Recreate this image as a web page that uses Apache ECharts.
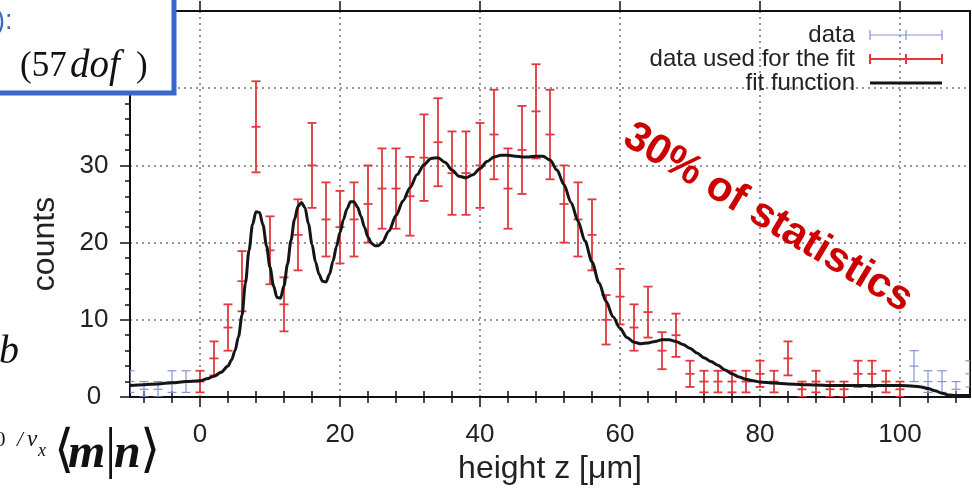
<!DOCTYPE html>
<html>
<head>
<meta charset="utf-8">
<script src="https://cdn.jsdelivr.net/npm/echarts@6/dist/echarts.min.js"></script>
<style>
  html, body { margin: 0; padding: 0; background: #fff; }
  #chart { width: 972px; height: 491px; }
</style>
</head>
<body>
<div id="chart"></div>
<script>
// Height histogram: counts per 2 µm bin, Poisson error bars, fit curve.
const fitBinsZ = [0, 2, 4, 6, 8, 10, 12, 14, 16, 18, 20, 22, 24, 26, 28, 30, 32, 34, 36, 38, 40,
  42, 44, 46, 48, 50, 52, 54, 56, 58, 60, 62, 64, 66, 68, 70, 72, 74, 76, 78, 80,
  82, 84, 86, 88, 90, 92, 94, 96, 98, 100];
const fitBinsCounts = [2, 5, 9, 15, 35, 19, 12, 21, 30, 23, 22, 23, 25, 27, 27, 26, 31, 33, 29, 29, 30,
  34, 27, 32, 37, 34, 25, 23, 21, 10, 13, 9, 11, 6, 8, 3, 2, 2, 2, 2, 3,
  2, 5, 1, 2, 1, 1, 3, 3, 2, 1];
const fitBinsErrors = [1.4, 2.2, 3, 3.9, 5.9, 4.4, 3.5, 4.6, 5.5, 4.8, 4.7, 4.8, 5, 5.2, 5.2, 5.1, 5.6, 5.7, 5.4, 5.4, 5.5,
  5.8, 5.2, 5.7, 6.1, 5.8, 5, 4.8, 4.6, 3.2, 3.6, 3, 3.3, 2.4, 2.8, 1.7, 1.4, 1.4, 1.4, 1.4, 1.7,
  1.4, 2.2, 1, 1.4, 1, 1, 1.7, 1.7, 1.4, 1];

const otherBinsZ = [-10, -8, -6, -4, -2, 102, 104, 106, 108, 110];
const otherBinsCounts = [2, 1, 1, 2, 2, 4, 2, 2, 1, 3];
const otherBinsErrors = [1.4, 1, 1, 1.4, 1.4, 2, 1.4, 1.4, 1, 1.7];

const curveZ = [-10, -8, -6, -4, -2, 0, 1, 2, 3, 4, 4.5, 5, 5.5, 6, 6.5, 7, 7.5, 8, 8.5, 9, 9.5,
  10, 10.5, 11, 11.5, 12, 12.5, 13, 13.5, 14, 14.5, 15, 15.5, 16, 16.5, 17, 17.5, 18, 18.5, 19, 19.5,
  20, 20.5, 21, 21.5, 22, 22.5, 23, 23.5, 24, 24.5, 25, 25.5, 26, 27, 28, 29, 30, 31, 32, 33, 34, 35,
  36, 37, 38, 39, 40, 41, 42, 43, 44, 45, 46, 47, 48, 49, 50, 51, 52, 53, 54, 55, 56, 57, 58, 59, 60,
  61, 62, 63, 64, 65, 66, 67, 68, 69, 70, 71, 72, 73, 74, 75, 76, 77, 78, 79, 80, 82, 84, 86, 88, 90,
  95, 100, 102, 103, 104, 105, 106, 107, 108, 110];
const curveCounts = [1.5, 1.6, 1.7, 1.85, 2.0, 2.1, 2.35, 2.7, 3.2, 4.0, 4.8, 6.0, 7.8, 10.6, 14.8, 19.0, 22.3, 24.0, 23.9, 22.3, 19.6,
  16.8, 14.4, 12.9, 12.8, 14.4, 17.2, 20.3, 23.0, 24.7, 25.2, 24.5, 22.4, 19.8, 17.5, 15.9, 15.0, 14.9, 15.9, 17.6, 19.5,
  21.3, 23.0, 24.4, 25.3, 25.3, 24.6, 23.4, 22.0, 20.7, 19.9, 19.6, 19.6, 20.0, 21.5, 23.5, 25.4, 27.1, 28.8, 30.1, 30.9, 31.0, 30.4,
  29.4, 28.6, 28.4, 28.8, 29.6, 30.5, 31.1, 31.3, 31.3, 31.2, 31.1, 31.1, 31.2, 31.2, 30.7, 29.4, 27.5, 25.2, 22.8, 20.2, 17.5, 14.8, 12.4, 10.4, 8.9,
  7.7, 7.1, 6.9, 7.0, 7.2, 7.4, 7.4, 7.2, 6.8, 6.3, 5.7, 5.1, 4.6, 4.1, 3.5, 3.0, 2.6, 2.3, 2.1, 1.95, 1.8, 1.7, 1.6, 1.55, 1.5,
  1.5, 1.5, 1.4, 1.3, 1.1, 0.8, 0.5, 0.25, 0.2, 0.2];

const xMajorTicks = [0, 20, 40, 60, 80, 100];
const xMinorTicks = [-8, -4, 4, 8, 12, 16, 24, 28, 32, 36, 44, 48, 52, 56, 64, 68, 72, 76, 84, 88, 92, 96, 104, 108];

const SANS = '"Liberation Sans", Arial, Helvetica, sans-serif';
const SERIF = '"Liberation Serif", "Times New Roman", serif';
const RED = '#e2383f';
const BLUE = '#8593d3';
const BOX_BLUE = '#3a67cc';

function zip3(a, b, c) { return a.map((v, i) => [v, b[i], c[i]]); }

// Vertical error bar with end caps and a short tick at the measured value.
function errorBarRenderer(color, width) {
  return function (params, api) {
    const z = api.value(0), n = api.value(1), e = api.value(2);
    const top = api.coord([z, n + e]);
    const bot = api.coord([z, Math.max(n - e, 0)]);
    const mid = api.coord([z, n]);
    const hw = 4.5;
    const st = { stroke: color, lineWidth: width };
    return {
      type: 'group',
      children: [
        { type: 'line', shape: { x1: mid[0], y1: top[1], x2: mid[0], y2: bot[1] }, style: st },
        { type: 'line', shape: { x1: mid[0] - hw, y1: top[1], x2: mid[0] + hw, y2: top[1] }, style: st },
        { type: 'line', shape: { x1: mid[0] - hw, y1: bot[1], x2: mid[0] + hw, y2: bot[1] }, style: st },
        { type: 'line', shape: { x1: mid[0] - hw, y1: mid[1], x2: mid[0] + hw, y2: mid[1] }, style: st }
      ]
    };
  };
}

const dotted = { type: [2, 4], color: '#777', width: 1.5 };
const frameLine = { show: true, onZero: false, lineStyle: { color: '#111', width: 2 } };
const hiddenAxisBits = { axisLabel: { show: false }, splitLine: { show: false } };

function xAxisBase(extra) {
  return Object.assign({ type: 'value', min: -10, max: 110, gridIndex: 0 }, extra);
}

const chart = echarts.init(document.getElementById('chart'), null, { renderer: 'canvas' });

// Legend entries drawn as text plus sample strokes.
function legendRow(y, label, color, width, caps) {
  const items = [
    { type: 'text', x: 855, y: y, z: 50,
      style: { text: label, font: '24px ' + SANS, fill: '#222', align: 'right', verticalAlign: 'middle' } },
    { type: 'line', z: 50, shape: { x1: 870, y1: y, x2: 942, y2: y }, style: { stroke: color, lineWidth: width } }
  ];
  if (caps) {
    [870, 906, 942].forEach(function (cx) {
      items.push({ type: 'line', z: 50, shape: { x1: cx, y1: y - 5, x2: cx, y2: y + 5 }, style: { stroke: color, lineWidth: width } });
    });
  }
  return items;
}

const graphics = [].concat(
  legendRow(35, 'data', BLUE, 1.2, true),
  legendRow(59, 'data used for the fit', RED, 2, true),
  legendRow(83, 'fit function', '#151515', 3, false),
  [
    { type: 'text', x: 768, y: 218, z: 40, rotation: -31 * Math.PI / 180,
      style: { text: '30% of statistics', font: 'bold 42px ' + SANS, fill: '#cc0000', align: 'center', verticalAlign: 'middle' } },
    // framed note, upper left
    { type: 'rect', z: 60, shape: { x: -4, y: -4, width: 178, height: 97 },
      style: { fill: '#fff', stroke: BOX_BLUE, lineWidth: 5 } },
    { type: 'text', z: 61, x: -4, y: 22, style: { text: '):', font: '27px ' + SANS, fill: BOX_BLUE, verticalAlign: 'middle' } },
    { type: 'text', z: 61, x: 20, y: 67, style: { text: '(57', font: '35px ' + SERIF, fill: '#111', verticalAlign: 'middle' } },
    { type: 'text', z: 61, x: 70, y: 67, style: { text: 'dof', font: 'italic 39px ' + SERIF, fill: '#111', verticalAlign: 'middle' } },
    { type: 'text', z: 61, x: 136, y: 67, style: { text: ')', font: '35px ' + SERIF, fill: '#111', verticalAlign: 'middle' } },
    // formula fragments, left margin
    { type: 'text', z: 61, x: -1, y: 352, style: { text: 'b', font: 'italic 40px ' + SERIF, fill: '#111', verticalAlign: 'middle' } },
    { type: 'text', z: 61, x: -5, y: 440, style: { text: '0', font: '21px ' + SERIF, fill: '#111', verticalAlign: 'middle' } },
    { type: 'text', z: 61, x: 17, y: 440, style: { text: '/', font: 'italic 21px ' + SERIF, fill: '#111', verticalAlign: 'middle' } },
    { type: 'text', z: 61, x: 27, y: 440, style: { text: 'v', font: 'italic 23px ' + SERIF, fill: '#111', verticalAlign: 'middle' } },
    { type: 'text', z: 61, x: 38, y: 451, style: { text: 'x', font: 'italic 18px ' + SERIF, fill: '#111', verticalAlign: 'middle' } },
    { type: 'text', z: 61, x: 54, y: 452, style: { text: '\u27E8', font: '52px "DejaVu Serif", ' + SERIF, fill: '#111', verticalAlign: 'middle' } },
    { type: 'text', z: 61, x: 68, y: 455, style: { text: 'm', font: 'bold italic 48px ' + SERIF, fill: '#111', verticalAlign: 'middle' } },
    { type: 'text', z: 61, x: 105, y: 452, style: { text: '|', font: '56px ' + SERIF, fill: '#111', verticalAlign: 'middle' } },
    { type: 'text', z: 61, x: 114, y: 455, style: { text: 'n', font: 'bold italic 48px ' + SERIF, fill: '#111', verticalAlign: 'middle' } },
    { type: 'text', z: 61, x: 140, y: 452, style: { text: '\u27E9', font: '52px "DejaVu Serif", ' + SERIF, fill: '#111', verticalAlign: 'middle' } }
  ]
);

const option = {
  backgroundColor: '#fff',
  animation: false,
  grid: { left: 130, right: 2, top: 11, bottom: 94, containLabel: false },
  xAxis: [
    xAxisBase({
      position: 'bottom',
      axisLine: frameLine,
      axisTick: { show: true, inside: false, length: 10, customValues: xMajorTicks, lineStyle: { color: '#111', width: 1.5 } },
      axisLabel: { customValues: xMajorTicks, fontSize: 26, color: '#222', fontFamily: SANS, margin: 25 },
      splitLine: { show: true, lineStyle: dotted },
      name: 'height z [\u03BCm]', nameLocation: 'middle', nameGap: 54,
      nameTextStyle: { fontSize: 32, color: '#222', fontFamily: SANS }
    }),
    xAxisBase(Object.assign({
      position: 'bottom', axisLine: { show: false },
      axisTick: { show: true, inside: false, length: 6, customValues: xMinorTicks, lineStyle: { color: '#111', width: 1.5 } }
    }, hiddenAxisBits)),
    xAxisBase(Object.assign({
      position: 'top', axisLine: frameLine,
      axisTick: { show: true, inside: false, length: 10, customValues: xMajorTicks, lineStyle: { color: '#111', width: 1.5 } }
    }, hiddenAxisBits)),
    xAxisBase(Object.assign({
      position: 'top', axisLine: { show: false },
      axisTick: { show: true, inside: false, length: 6, customValues: xMinorTicks, lineStyle: { color: '#111', width: 1.5 } }
    }, hiddenAxisBits))
  ],
  yAxis: [
    {
      type: 'value', min: 0, max: 50, interval: 10, position: 'left',
      axisLine: frameLine,
      axisTick: { show: true, inside: false, length: 10, lineStyle: { color: '#111', width: 1.5 } },
      minorTick: { show: true, splitNumber: 5, length: 5, lineStyle: { color: '#111', width: 1.5 } },
      axisLabel: { fontSize: 26, color: '#222', fontFamily: SANS, margin: 36, align: 'center', showMaxLabel: false },
      splitLine: { show: true, lineStyle: dotted },
      name: 'counts', nameLocation: 'middle', nameGap: 69, nameRotate: 90,
      nameTextStyle: { fontSize: 32, color: '#222', fontFamily: SANS, padding: [0, 80, 0, 0] }
    },
    {
      type: 'value', min: 0, max: 50, interval: 10, position: 'right',
      axisLine: frameLine, axisTick: { show: false }, axisLabel: { show: false }, splitLine: { show: false }
    }
  ],
  series: [
    {
      name: 'data', type: 'custom', xAxisIndex: 0, yAxisIndex: 0, clip: true, z: 3,
      renderItem: errorBarRenderer(BLUE, 1.2),
      encode: { x: 0, y: 1 },
      data: zip3(otherBinsZ, otherBinsCounts, otherBinsErrors)
    },
    {
      name: 'data used for the fit', type: 'custom', xAxisIndex: 0, yAxisIndex: 0, clip: true, z: 3,
      renderItem: errorBarRenderer(RED, 1.8),
      encode: { x: 0, y: 1 },
      data: zip3(fitBinsZ, fitBinsCounts, fitBinsErrors)
    },
    {
      name: 'fit function', type: 'line', xAxisIndex: 0, yAxisIndex: 0, z: 5,
      showSymbol: false, smooth: 0.3, smoothMonotone: 'x', clip: true,
      lineStyle: { color: '#151515', width: 3 },
      data: curveZ.map((z, i) => [z, curveCounts[i]])
    }
  ],
  graphic: graphics
};

chart.setOption(option);
</script>
</body>
</html>
